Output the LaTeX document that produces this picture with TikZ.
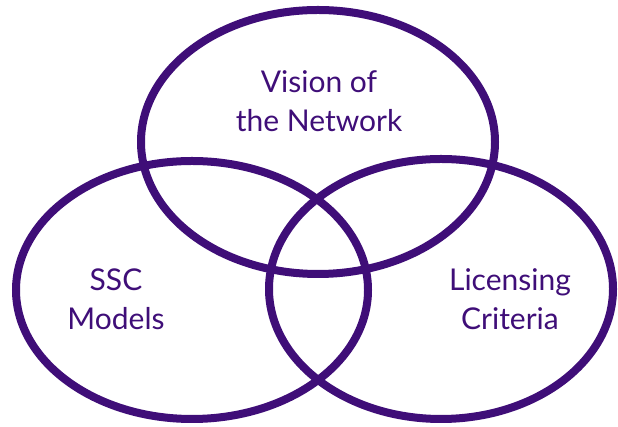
\documentclass[tikz,border=0pt]{standalone}
\usepackage{fontspec}
\setmainfont{Lato}
\usepackage{tikz}
\definecolor{VennPurple}{HTML}{3F0E78}
\tikzset{
    venn/.style={draw=VennPurple, line width=8pt},
    vennlabel/.style={text=VennPurple, align=center, inner sep=0pt,
        font=\fontsize{30}{39}\selectfont}
}

\begin{document}
\begin{tikzpicture}[x=1pt, y=1pt]
    % =========================================
    % 1. 画布 (Canvas)
    % =========================================
    \useasboundingbox (0,0) rectangle (618,427);

    % =========================================
    % 2. 三个椭圆 (Ellipses)
    % =========================================
    \draw[venn] (318,285) ellipse (177 and 132);
    \draw[venn] (192,137) ellipse (176 and 129);
    \draw[venn] (441,138) ellipse (172 and 130);

    % =========================================
    % 3. 文字 (Labels)
    % =========================================
    \node[vennlabel] (vision) at (319,326) {Vision of\\the Network};
    \node[vennlabel] (ssc) at (116,128) {SSC\\Models};
    \node[vennlabel] (licensing) at (510,128) {Licensing\\Criteria};
\end{tikzpicture}
\end{document}
